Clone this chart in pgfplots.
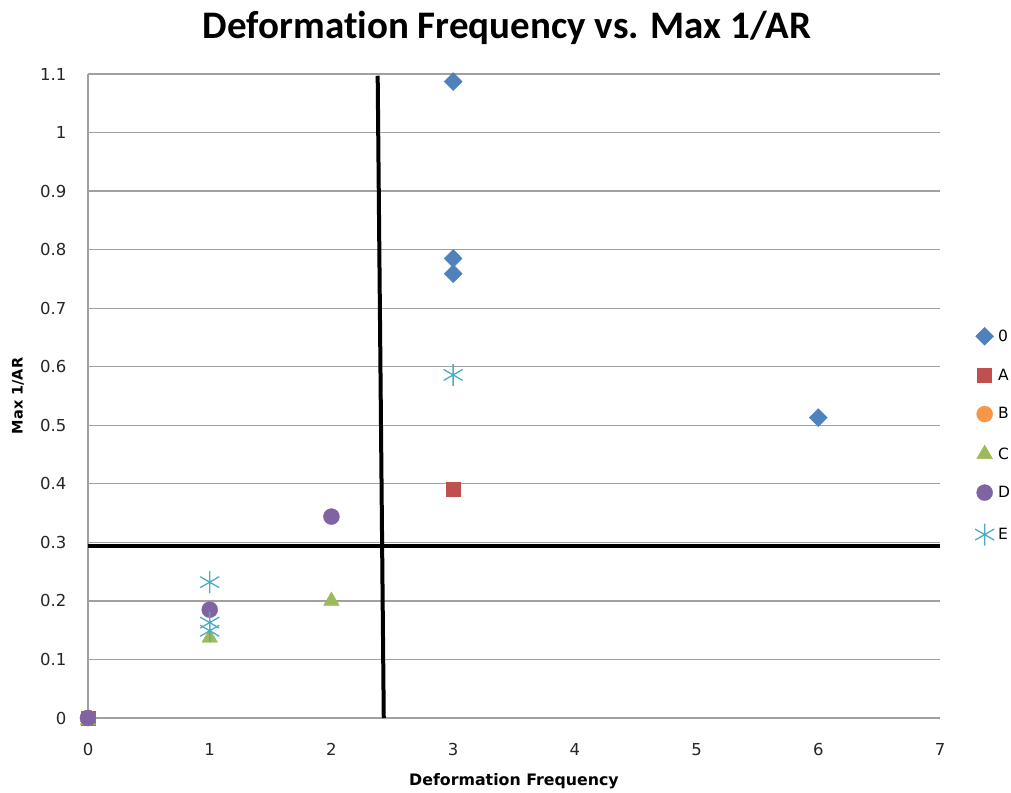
\documentclass[border=0pt]{standalone}
\usepackage{fontspec}
\setmainfont[Ligatures={NoCommon}]{Carlito}
\newfontfamily\dv{DejaVu Sans}
\usepackage{pgfplots}
\pgfplotsset{compat=1.18}
\definecolor{cO}{HTML}{4F81BD}
\definecolor{cA}{HTML}{C0504D}
\definecolor{cB}{HTML}{F79646}
\definecolor{cC}{HTML}{9BBB59}
\definecolor{cD}{HTML}{8064A2}
\definecolor{cE}{HTML}{4BACC6}
\definecolor{gridc}{HTML}{A0A0A0}
\begin{document}
\begin{tikzpicture}[x=1pt,y=1pt]
\useasboundingbox (0,0) rectangle (1011,792);
\begin{axis}[
  at={(88pt,74pt)}, anchor=south west,
  scale only axis, width=852pt, height=644pt,
  xmin=0, xmax=7, ymin=0, ymax=1.1,
  xtick={0,1,2,3,4,5,6,7},
  ytick={0,0.1,0.2,0.3,0.4,0.5,0.6,0.7,0.8,0.9,1,1.1},
  yticklabels={0,0.1,0.2,0.3,0.4,0.5,0.6,0.7,0.8,0.9,1,1.1},
  axis x line*=bottom, axis y line*=left,
  axis line style={gridc, line width=1.2pt, -},
  ymajorgrids, grid style={gridc, line width=1.2pt},
  major tick length=0pt,
  /pgf/number format/assume math mode=true,
  tick label style={font=\dv\fontsize{16.5}{20}\selectfont, text=black!85},
  xticklabel style={yshift=-22pt},
  yticklabel style={xshift=-18pt},
  clip=false,
  legend style={at={(1.041,0.607)}, anchor=north west, draw=none, fill=none,
    font=\dv\fontsize{15.5}{18}\selectfont, row sep=23pt, inner sep=0pt,
    nodes={inner sep=1pt},
    /tikz/every odd column/.append style={column sep=3pt}},
  legend cell align=left,
  legend image code/.code={\draw[#1] plot coordinates {(0pt,0pt)};},
]
\addplot[only marks, mark=diamond*, mark size=9, mark options={xscale=1.33, fill=cO, draw=cO}] coordinates {(3,1.087) (3,0.785) (3,0.759) (6,0.513)};
\addlegendentry{0}
\addplot[only marks, mark=square*, mark size=7, mark options={fill=cA, draw=cA}] coordinates {(0,0) (3,0.390)};
\addlegendentry{A}
\addplot[only marks, mark=*, mark size=8, mark options={fill=cB, draw=cB}] coordinates {(0,0)};
\addlegendentry{B}
\addplot[only marks, mark=triangle*, mark size=9, mark options={fill=cC, draw=cC}] coordinates {(0,-0.004) (1,0.137) (2,0.200)};
\addlegendentry{C}
\addplot[only marks, mark=*, mark size=8, mark options={fill=cD, draw=cD}] coordinates {(0,0) (1,0.185) (2,0.344)};
\addlegendentry{D}
\addplot[only marks, mark=asterisk, mark size=11, mark options={draw=cE, line width=1.3pt}] coordinates {(1,0.232) (1,0.163) (1,0.149) (3,0.586)};
\addlegendentry{E}
\addplot[black, line width=4pt, forget plot] coordinates {(2.38,1.097) (2.43,0)};
\addplot[black, line width=4pt, forget plot] coordinates {(0,0.294) (7,0.294)};
\end{axis}
\node[font=\fontsize{39}{45}\selectfont\bfseries] at (507,764) {Deformation Frequency vs. Max 1/AR};
\node[font=\dv\fontsize{15.8}{18}\selectfont\bfseries] at (514,11) {Deformation Frequency};
\node[font=\dv\fontsize{14.5}{18}\selectfont\bfseries, rotate=90] at (18,396) {Max\ 1/AR};
\end{tikzpicture}
\end{document}
